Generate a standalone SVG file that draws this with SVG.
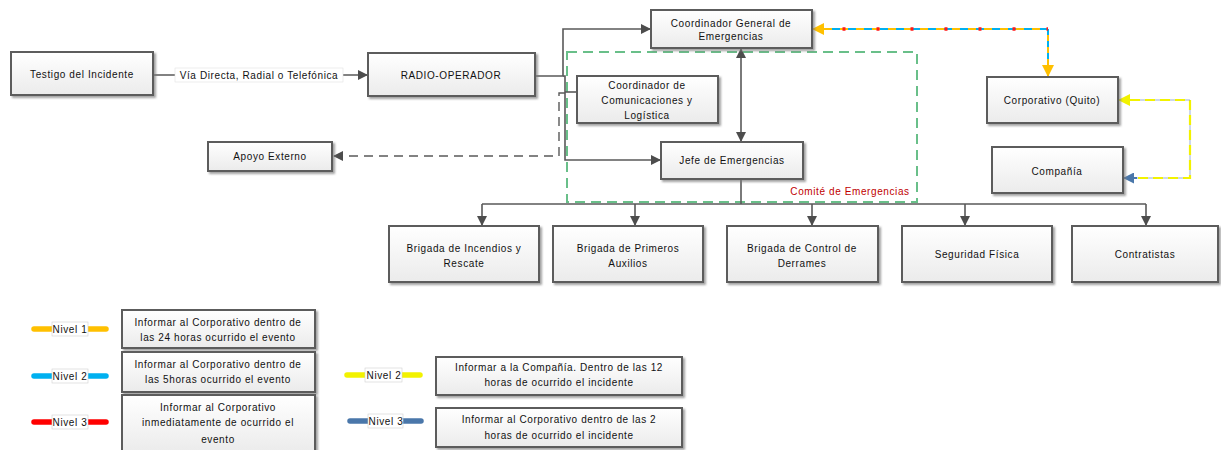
<svg xmlns="http://www.w3.org/2000/svg" width="1221" height="450" viewBox="0 0 1221 450">
  <defs>
    <linearGradient id="boxFill" x1="0" y1="0" x2="0" y2="1">
      <stop offset="0" stop-color="#ffffff"/>
      <stop offset="1" stop-color="#ebebeb"/>
    </linearGradient>
    <filter id="shadow" x="-10%" y="-10%" width="130%" height="140%">
      <feDropShadow dx="2" dy="2" stdDeviation="1.2" flood-color="#7a7a7a" flood-opacity="0.7"/>
    </filter>
    <marker id="arrGray" viewBox="0 0 10 10" refX="10" refY="5" markerWidth="10" markerHeight="10" markerUnits="userSpaceOnUse" orient="auto-start-reverse">
      <path d="M0,0 L10,5 L0,10 z" fill="#4d4d4d"/>
    </marker>
    <marker id="arrOrange" viewBox="0 0 10 10" refX="10" refY="5" markerWidth="14" markerHeight="12" markerUnits="userSpaceOnUse" orient="auto">
      <path d="M0,0 L10,5 L0,10 z" fill="#ffc000"/>
    </marker>
    <marker id="arrYellow" viewBox="0 0 10 10" refX="10" refY="5" markerWidth="14" markerHeight="12" markerUnits="userSpaceOnUse" orient="auto">
      <path d="M0,0 L10,5 L0,10 z" fill="#f2f200"/>
    </marker>
    <marker id="arrBlue" viewBox="0 0 10 10" refX="10" refY="5" markerWidth="12" markerHeight="11" markerUnits="userSpaceOnUse" orient="auto">
      <path d="M0,0 L10,5 L0,10 z" fill="#4a77aa"/>
    </marker>
  </defs>
  <style>
    .box { fill: url(#boxFill); stroke: #5c5c5c; stroke-width: 2; filter: url(#shadow); }
    .t { font-family: "Liberation Sans", Arial, sans-serif; font-size: 10px; letter-spacing: 0.6px; fill: #111111; text-anchor: middle; }
    .conn { fill: none; stroke: #595959; stroke-width: 1.6; }
    .dash { fill: none; stroke: #595959; stroke-width: 1.4; stroke-dasharray: 9 6; }
    .lvl { fill: none; stroke-width: 5.5; stroke-linecap: round; }
    .tag { fill: #ffffff; stroke: #d0d0d0; stroke-width: 0.6; }
  </style>

  <rect width="1221" height="450" fill="#ffffff"/>

  <!-- Comité de Emergencias frame -->
  <g id="comite">
    <rect x="567" y="52" width="350" height="150" fill="none" stroke="#4fb474" stroke-width="2" stroke-dasharray="10 6" opacity="0.85"/>
    <text x="850" y="195" class="t" style="fill:#c00000">Comité de Emergencias</text>
  </g>

  <!-- Connectors -->
  <g id="connectors">
    <!-- Testigo -> Radio-operador -->
    <line class="conn" x1="153" y1="75" x2="368" y2="75" marker-end="url(#arrGray)"/>
    <rect x="175" y="68" width="168" height="14" fill="#ffffff" stroke="#e2e2e2" stroke-width="0.6"/>
    <text x="259" y="78.5" class="t">Vía Directa, Radial o Telefónica</text>

    <!-- Radio-operador -> Coordinador General -->
    <polyline class="conn" points="535,76 563,76 563,29 651,29" marker-end="url(#arrGray)"/>
    <!-- Radio-operador -> Jefe de Emergencias -->
    <polyline class="conn" points="563,76 565,76 565,160 661,160" marker-end="url(#arrGray)"/>
    <!-- tie to Coordinador de Comunicaciones -->
    <line class="conn" x1="565" y1="92" x2="577" y2="92"/>
    <!-- Radio-operador -> Apoyo Externo (dashed) -->
    <polyline class="dash" points="565,93 559,93 559,156 333,156" marker-end="url(#arrGray)"/>

    <!-- Coordinador General <-> Jefe -->
    <line class="conn" x1="741" y1="48" x2="741" y2="142" marker-start="url(#arrGray)" marker-end="url(#arrGray)"/>

    <!-- Jefe -> brigades bus -->
    <polyline class="conn" points="741,179 741,204"/>
    <line class="conn" x1="482" y1="204" x2="1146" y2="204"/>
    <line class="conn" x1="482" y1="204" x2="482" y2="226" marker-end="url(#arrGray)"/>
    <line class="conn" x1="635" y1="204" x2="635" y2="226" marker-end="url(#arrGray)"/>
    <line class="conn" x1="812" y1="204" x2="812" y2="226" marker-end="url(#arrGray)"/>
    <line class="conn" x1="965" y1="204" x2="965" y2="226" marker-end="url(#arrGray)"/>
    <line class="conn" x1="1146" y1="204" x2="1146" y2="226" marker-end="url(#arrGray)"/>

    <!-- Corporativo link: levels 1 / 2 / 3 -->
    <polyline points="1048,29 830,29" fill="none" stroke="#00b0f0" stroke-width="2" stroke-dasharray="8 8"/>
    <polyline points="1048,29 830,29" fill="none" stroke="#ffc000" stroke-width="2" stroke-dasharray="8 8" stroke-dashoffset="8"/>
    <polyline points="1048,29 1048,65" fill="none" stroke="#00b0f0" stroke-width="2" stroke-dasharray="6 6"/>
    <polyline points="1048,29 1048,65" fill="none" stroke="#ffc000" stroke-width="2" stroke-dasharray="6 6" stroke-dashoffset="6"/>
    <polyline points="1048,29 826,29" fill="none" stroke="#ff1a1a" stroke-width="3.5" stroke-dasharray="3 31" stroke-dashoffset="1.5"/>
    <line x1="830" y1="29" x2="812" y2="29" stroke="#ffc000" stroke-width="2" marker-end="url(#arrOrange)"/>
    <line x1="1048" y1="62" x2="1048" y2="77" stroke="#ffc000" stroke-width="2" marker-end="url(#arrOrange)"/>

    <!-- Corporativo / Compañía link: levels 2 / 3 -->
    <polyline points="1130,100 1190,100 1190,178 1137,178" fill="none" stroke="#f2f200" stroke-width="2.2" stroke-dasharray="10 5"/>
    <polyline points="1130,100 1190,100 1190,178 1137,178" fill="none" stroke="#7f9ccc" stroke-width="1" stroke-dasharray="5 10" stroke-dashoffset="-10" opacity="0.8"/>
    <line x1="1132" y1="100" x2="1118" y2="100" stroke="#f2f200" stroke-width="2" marker-end="url(#arrYellow)"/>
    <line x1="1137" y1="178" x2="1123" y2="178" stroke="#4a77aa" stroke-width="2" marker-end="url(#arrBlue)"/>
  </g>

  <!-- Nodes -->
  <g id="testigo">
    <rect class="box" x="11" y="52" width="142" height="43"/>
    <text x="82" y="77.5" class="t">Testigo del Incidente</text>
  </g>
  <g id="radio-operador">
    <rect class="box" x="368" y="53" width="167" height="43"/>
    <text x="451" y="78.5" class="t">RADIO-OPERADOR</text>
  </g>
  <g id="coordinador-general">
    <rect class="box" x="651" y="10" width="161" height="38"/>
    <text x="731" y="26.5" class="t">Coordinador General de</text>
    <text x="731" y="39.5" class="t">Emergencias</text>
  </g>
  <g id="coordinador-comunicaciones">
    <rect class="box" x="577" y="76" width="141" height="47"/>
    <text x="647" y="88.5" class="t">Coordinador de</text>
    <text x="647" y="103.5" class="t">Comunicaciones y</text>
    <text x="647" y="118.5" class="t">Logística</text>
  </g>
  <g id="apoyo-externo">
    <rect class="box" x="208" y="142" width="124" height="29"/>
    <text x="270" y="160" class="t">Apoyo Externo</text>
  </g>
  <g id="jefe-emergencias">
    <rect class="box" x="661" y="142" width="142" height="37"/>
    <text x="732" y="164" class="t">Jefe de Emergencias</text>
  </g>
  <g id="corporativo">
    <rect class="box" x="987" y="77" width="131" height="46"/>
    <text x="1052" y="104" class="t">Corporativo (Quito)</text>
  </g>
  <g id="compania">
    <rect class="box" x="992" y="147" width="131" height="46"/>
    <text x="1057" y="175" class="t">Compañía</text>
  </g>
  <g id="brigada-incendios">
    <rect class="box" x="389" y="226" width="150" height="56"/>
    <text x="464" y="252" class="t">Brigada de Incendios y</text>
    <text x="464" y="267" class="t">Rescate</text>
  </g>
  <g id="brigada-primeros-auxilios">
    <rect class="box" x="553" y="226" width="150" height="56"/>
    <text x="628" y="252" class="t">Brigada de Primeros</text>
    <text x="628" y="267" class="t">Auxilios</text>
  </g>
  <g id="brigada-derrames">
    <rect class="box" x="727" y="226" width="151" height="56"/>
    <text x="802" y="252" class="t">Brigada de Control de</text>
    <text x="802" y="267" class="t">Derrames</text>
  </g>
  <g id="seguridad-fisica">
    <rect class="box" x="902" y="226" width="150" height="56"/>
    <text x="977" y="258" class="t">Seguridad Física</text>
  </g>
  <g id="contratistas">
    <rect class="box" x="1072" y="226" width="146" height="56"/>
    <text x="1145" y="258" class="t">Contratistas</text>
  </g>

  <!-- Legend -->
  <g id="legend-nivel1">
    <line class="lvl" x1="34" y1="329" x2="106" y2="329" stroke="#ffc000"/>
    <rect class="tag" x="52" y="322" width="36" height="14"/>
    <text x="70" y="332.5" class="t">Nivel 1</text>
    <rect class="box" x="122" y="310" width="193" height="38"/>
    <text x="218" y="326" class="t">Informar al Corporativo dentro de</text>
    <text x="218" y="341" class="t">las 24 horas ocurrido el evento</text>
  </g>
  <g id="legend-nivel2">
    <line class="lvl" x1="34" y1="376" x2="106" y2="376" stroke="#00b0f0"/>
    <rect class="tag" x="52" y="369" width="36" height="14"/>
    <text x="70" y="379.5" class="t">Nivel 2</text>
    <rect class="box" x="122" y="352" width="193" height="40"/>
    <text x="218" y="368" class="t">Informar al Corporativo dentro de</text>
    <text x="218" y="383" class="t">las 5horas ocurrido el evento</text>
  </g>
  <g id="legend-nivel3">
    <line class="lvl" x1="34" y1="422" x2="106" y2="422" stroke="#ff0000"/>
    <rect class="tag" x="52" y="415" width="36" height="14"/>
    <text x="70" y="425.5" class="t">Nivel 3</text>
    <rect class="box" x="122" y="395" width="193" height="58"/>
    <text x="218" y="411" class="t">Informar al Corporativo</text>
    <text x="218" y="426" class="t">inmediatamente de ocurrido el</text>
    <text x="218" y="443" class="t">evento</text>
  </g>
  <g id="legend-compania-nivel2">
    <line class="lvl" x1="347" y1="375" x2="420" y2="375" stroke="#f2f200"/>
    <rect class="tag" x="365" y="368" width="37" height="14"/>
    <text x="384" y="378.5" class="t">Nivel 2</text>
    <rect class="box" x="436" y="357" width="246" height="38"/>
    <text x="559" y="371" class="t">Informar a la Compañía. Dentro de las 12</text>
    <text x="559" y="386" class="t">horas de ocurrido el incidente</text>
  </g>
  <g id="legend-compania-nivel3">
    <line class="lvl" x1="350" y1="421" x2="421" y2="421" stroke="#4a77aa"/>
    <rect class="tag" x="368" y="414" width="35" height="14"/>
    <text x="386" y="424.5" class="t">Nivel 3</text>
    <rect class="box" x="436" y="408" width="246" height="39"/>
    <text x="559" y="423" class="t">Informar al Corporativo dentro de las 2</text>
    <text x="559" y="439" class="t">horas de ocurrido el incidente</text>
  </g>
</svg>
